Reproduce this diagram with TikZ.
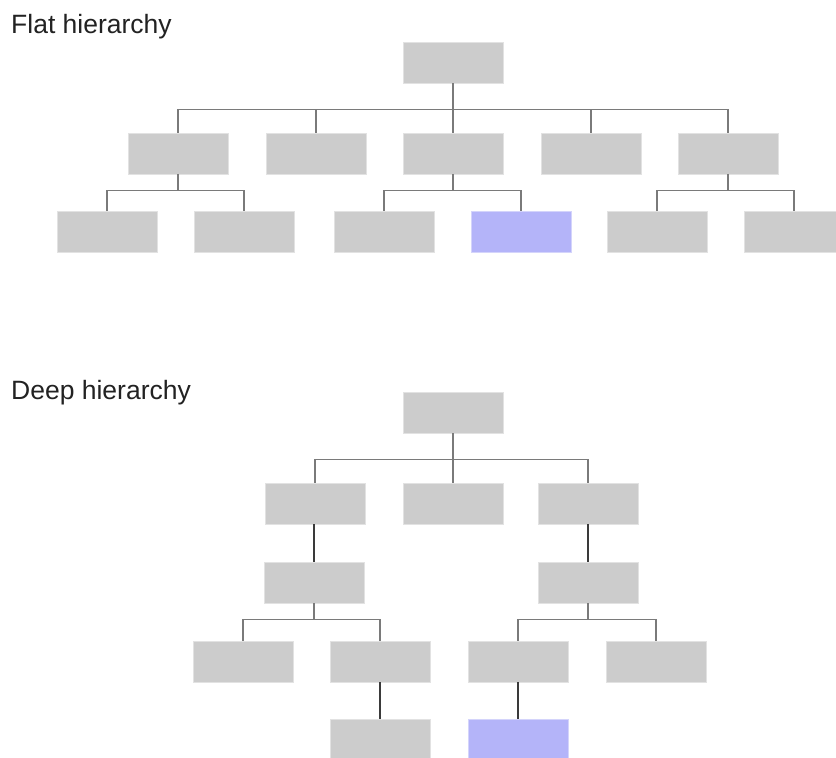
\documentclass[tikz,border=0pt]{standalone}
\usepackage{fontspec}
\setmainfont{Liberation Sans}
\definecolor{boxgray}{HTML}{CCCCCC}
\definecolor{boxedge}{HTML}{E2E2E2}
\definecolor{boxblue}{HTML}{B4B4F9}
\definecolor{blueedge}{HTML}{D4D4FB}
\definecolor{busline}{HTML}{7A7A7A}
\definecolor{stemline}{HTML}{3A3A3A}
\definecolor{titletext}{HTML}{222222}
\begin{document}
\begin{tikzpicture}[x=1pt,y=-1pt,
  unit/.style={rectangle,inner sep=0pt,minimum width=100pt,minimum height=41pt,
    fill=boxgray,draw=boxedge,line width=0.6pt},
  picked/.style={unit,fill=boxblue,draw=blueedge},
  bus/.style={draw=busline,line width=1.1pt},
  stem/.style={draw=stemline,line width=1.1pt},
  heading/.style={anchor=base west,inner sep=0pt,text=titletext,
    font=\fontsize{26.5}{30}\selectfont}]
\useasboundingbox (0,0) rectangle (836,758);

% ---- flat hierarchy ----
\node[heading] (tflat) at (11,33) {Flat hierarchy};
\node[unit] (f0) at (453,62.5) {};
\foreach \n/\x in {f1/178,f2/316,f3/453,f4/591,f5/728}
  \node[unit] (\n) at (\x,153.5) {};
\foreach \n/\x in {f11/107,f12/244,f31/384,f51/657,f52/794}
  \node[unit] (\n) at (\x,231.5) {};
\node[picked] (f32) at (521,231.5) {};

\foreach \c in {f1,f2,f3,f4,f5}
  \draw[bus] (f0.south) -- ++(0,26) -| (\c.north);
\foreach \p/\c in {f1/f11,f1/f12,f3/f31,f3/f32,f5/f51,f5/f52}
  \draw[bus] (\p.south) -- ++(0,16) -| (\c.north);

% ---- deep hierarchy ----
\node[heading] (tdeep) at (11,399) {Deep hierarchy};
\node[unit] (d0) at (453,412.5) {};
\node[unit] (d1) at (315,503.5) {};
\node[unit] (d2) at (453,503.5) {};
\node[unit] (d3) at (588,503.5) {};
\node[unit] (d11) at (314,582.5) {};
\node[unit] (d31) at (588,582.5) {};
\node[unit] (d111) at (243,661.5) {};
\node[unit] (d112) at (380,661.5) {};
\node[unit] (d311) at (518,661.5) {};
\node[unit] (d312) at (656,661.5) {};
\node[unit] (d1121) at (380,739.5) {};
\node[picked] (d3111) at (518,739.5) {};

\foreach \c in {d1,d2,d3}
  \draw[bus] (d0.south) -- ++(0,26) -| (\c.north);
\foreach \p/\c in {d11/d111,d11/d112,d31/d311,d31/d312}
  \draw[bus] (\p.south) -- ++(0,16) -| (\c.north);
\draw[stem] (d11.north |- d1.south) -- (d11.north);
\draw[stem] (d3.south) -- (d31.north);
\draw[stem] (d112.south) -- (d1121.north);
\draw[stem] (d311.south) -- (d3111.north);
\end{tikzpicture}
\end{document}
